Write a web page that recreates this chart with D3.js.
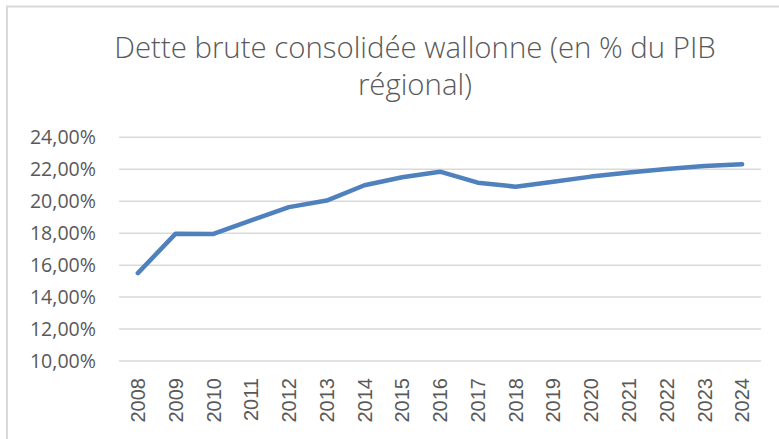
<!DOCTYPE html>
<html>
<head>
<meta charset="utf-8">
<script src="https://cdn.jsdelivr.net/npm/d3@7"></script>
<style>
  body { margin: 0; background: #fff; }
</style>
</head>
<body>
<div id="canvas"></div>
<script>
// Dette brute consolidée wallonne, % du PIB régional
var years = ["2008","2009","2010","2011","2012","2013","2014","2015","2016",
             "2017","2018","2019","2020","2021","2022","2023","2024"];
var dette = [15.5, 17.97, 17.95, 18.8, 19.63, 20.04, 21.0, 21.5, 21.85,
             21.16, 20.91, 21.22, 21.54, 21.8, 22.02, 22.2, 22.31];
var yTicks = [10, 12, 14, 16, 18, 20, 22, 24];
var titleLines = ["Dette brute consolidée wallonne (en % du PIB", "régional)"];

var w = 779, h = 439;
var svg = d3.select("#canvas").append("svg")
  .attr("width", w)
  .attr("height", h)
  .style("display", "block");

// chart frame (only top and left edges are visible in the picture)
svg.append("path")
  .attr("d", "M7," + h + "V6.5H" + w)
  .attr("fill", "none")
  .attr("stroke", "#d9d9d9")
  .attr("stroke-width", 2);

var x = d3.scaleBand().domain(years).range([119, 761]);
var y = d3.scaleLinear().domain([10, 24]).range([361, 137.3]);

// gridlines
svg.append("g").selectAll("line")
  .data(yTicks)
  .join("line")
    .attr("x1", 119).attr("x2", 761)
    .attr("y1", function(d){ return y(d); })
    .attr("y2", function(d){ return y(d); })
    .attr("stroke", "#d9d9d9")
    .attr("stroke-width", 1.5);

// y labels
var fmt = function(d){ return d.toFixed(2).replace(".", ",") + "%"; };
svg.append("g").selectAll("text")
  .data(yTicks)
  .join("text")
    .attr("x", 96)
    .attr("y", function(d){ return y(d); })
    .attr("dy", "0.36em")
    .attr("text-anchor", "end")
    .attr("font-family", "Open Sans, sans-serif")
    .attr("font-size", 19.6)
    .attr("fill", "#595959")
    .text(fmt);

// x labels, rotated
svg.append("g").selectAll("text")
  .data(years)
  .join("text")
    .attr("transform", function(d){
      return "translate(" + (x(d) + x.bandwidth()/2) + ",378) rotate(-90)";
    })
    .attr("dy", "0.36em")
    .attr("text-anchor", "end")
    .attr("font-family", "Liberation Sans, Arial, sans-serif")
    .attr("font-size", 20)
    .attr("fill", "#595959")
    .text(function(d){ return d; });

// line
var line = d3.line()
  .x(function(d, i){ return x(years[i]) + x.bandwidth()/2; })
  .y(function(d){ return y(d); });

svg.append("path")
  .datum(dette)
  .attr("d", line)
  .attr("fill", "none")
  .attr("stroke", "#4f81bd")
  .attr("stroke-width", 4.5)
  .attr("stroke-linecap", "round")
  .attr("stroke-linejoin", "round");

// title
var title = svg.append("text")
  .attr("text-anchor", "middle")
  .attr("font-family", "Open Sans, sans-serif")
  .attr("font-weight", 300)
  .attr("font-size", 24)
  .attr("fill", "#595959");
title.selectAll("tspan")
  .data(titleLines)
  .join("tspan")
    .attr("x", 415)
    .attr("y", function(d, i){ return 58 + i * 37; })
    .text(function(d){ return d; });
// fit first line to the width seen in the picture
var tw = title.select("tspan").node().getComputedTextLength();
title.attr("font-size", 24 * 602 / tw);
</script>
</body>
</html>
